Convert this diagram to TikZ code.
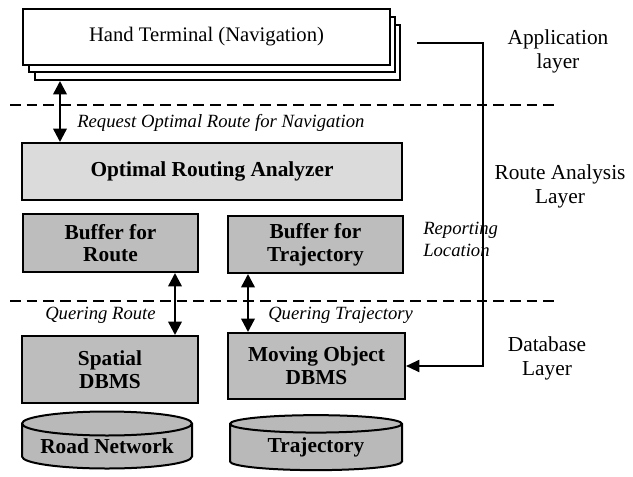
\documentclass[tikz,border=0pt]{standalone}
\usepackage{fontspec}
\setmainfont{Liberation Serif}
\usetikzlibrary{arrows.meta,shapes.geometric}
\begin{document}
\begin{tikzpicture}[x=0.75pt,y=-0.75pt,
  frame/.style={draw, line width=1.5pt, inner sep=0pt},
  whitebox/.style={frame, fill=white},
  lightbox/.style={frame, fill=gray!28, font=\bfseries\fontsize{16}{17}\selectfont, align=center},
  darkbox/.style={frame, fill=gray!52, font=\bfseries\fontsize{16}{17}\selectfont, align=center},
  store/.style={frame, fill=gray!55, shape=cylinder, shape border rotate=90, aspect=0.18, font=\bfseries\fontsize{16}{17}\selectfont},
  layerline/.style={line width=2.2pt, dash pattern=on 8pt off 4.5pt},
  tip/.style={},
  dbl/.style={line width=1.8pt, {Triangle[length=10pt,width=10pt]}-{Triangle[length=10pt,width=10pt]}},
  rep/.style={line width=1.5pt, -{Triangle[length=10pt,width=9pt]}},
  lab/.style={font=\itshape\fontsize{14}{15}\selectfont, inner sep=0pt},
  layer/.style={font=\fontsize{16}{18}\selectfont, align=center, inner sep=0pt}]
\useasboundingbox (0,0) rectangle (633,476);

% stacked hand terminal
\node[whitebox, minimum width=273.75pt, minimum height=41.25pt] (ht3) at (217.5,52.5) {};
\node[whitebox, minimum width=274.5pt, minimum height=41.25pt] (ht2) at (212,44.5) {};
\node[whitebox, minimum width=275.25pt, minimum height=42pt, font=\fontsize{15.5}{17}\selectfont] (ht1) at (206.5,37) {Hand Terminal (Navigation)};

% layer lines
\coordinate (l1a) at (10,105); \coordinate (l1b) at (555,105);
\coordinate (l2a) at (10,301); \coordinate (l2b) at (555,301);
\draw[layerline] (l1a) -- (l1b);
\draw[layerline] (l2a) -- (l2b);

% route analysis layer
\node[lightbox, minimum width=285pt, minimum height=42.75pt] (ora) at (212,171.5) {Optimal Routing Analyzer};
\node[darkbox, minimum width=131.25pt, minimum height=43.5pt] (bfr) at (110.5,243) {Buffer for\\Route};
\node[darkbox, minimum width=131.25pt, minimum height=42.75pt] (bft) at (315.5,244.5) {Buffer for\\Trajectory};

% database layer
\node[darkbox, minimum width=132pt, minimum height=50.25pt] (sdb) at (110,369.5) {Spatial\\DBMS};
\node[darkbox, minimum width=132.75pt, minimum height=49.5pt] (mdb) at (316.5,366) {Moving Object\\DBMS};
\node[store, minimum width=127.5pt, minimum height=42.75pt] (rn) at (107,446.5) {Road Network};
\node[store, minimum width=129pt, minimum height=41.25pt] (tr) at (316,447.5) {Trajectory};

% connectors
\coordinate (xa) at (60,0);
\coordinate (xr) at (175,0);
\coordinate (xt) at (248,0);
\coordinate (rx) at (483,0);
\coordinate (rs) at (417,43);
\draw[dbl] (ht3.south -| xa) -- (ora.north -| xa);
\draw[dbl] (bfr.south -| xr) -- (sdb.north -| xr);
\draw[dbl] (bft.south -| xt) -- (mdb.north -| xt);
\draw[rep] (rs) -- (rs -| rx) |- (mdb.east);

% labels
\node[lab, anchor=west] (lreq) at (77,123) {Request Optimal Route for Navigation};
\node[lab, anchor=west] (lqr) at (45,315) {Quering Route};
\node[lab, anchor=west] (lqt) at (268,315) {Quering Trajectory};
\node[lab, anchor=west] (lrep1) at (423,230) {Reporting};
\node[lab, anchor=west] (lrep2) at (423,250) {Location};

\node[layer] (app) at (558,51) {Application\\layer};
\node[layer] (ral) at (560,186) {Route Analysis\\Layer};
\node[layer] (dbl) at (547,358) {Database\\Layer};
\end{tikzpicture}
\end{document}
